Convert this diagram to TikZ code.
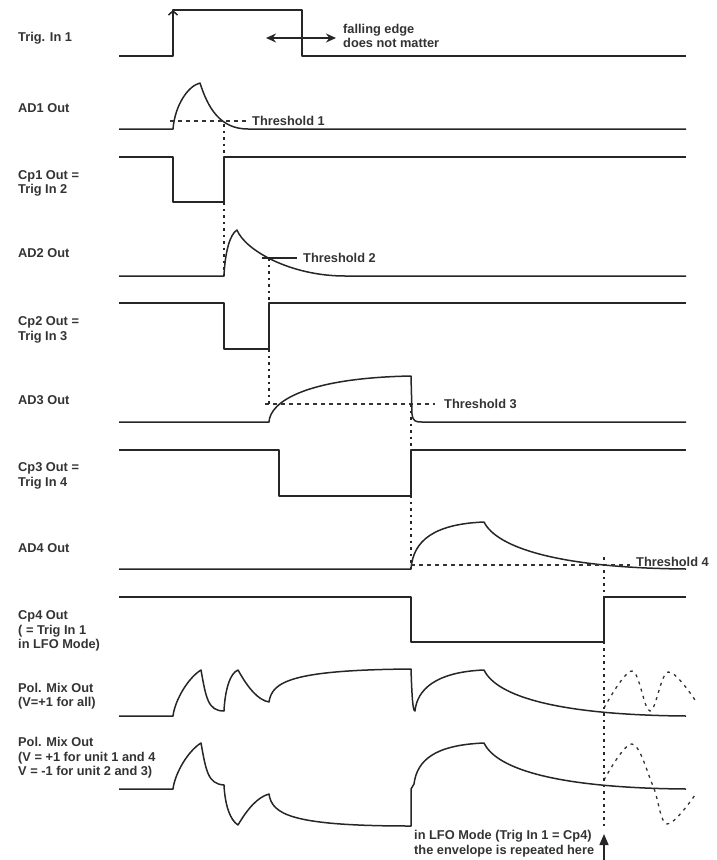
\documentclass[tikz,border=0pt]{standalone}
\usepackage{fontspec}
\setmainfont{Liberation Sans}
\usetikzlibrary{arrows.meta}
\usetikzlibrary{positioning}

\tikzset{
  trace/.style={line width=1.5pt, black!85, line join=round},
  threshline/.style={line width=1.2pt, black!80, dash pattern=on 4pt off 4pt},
  syncline/.style={line width=1.3pt, black!85, dash pattern=on 2.5pt off 4pt},
  lfoline/.style={line width=1.3pt, black!80, dash pattern=on 3pt off 4.5pt},
  rowtext/.style={anchor=west, inner sep=0pt, align=left, text=black!80,
    font=\fontsize{12.8}{14.6}\selectfont\bfseries},
}

% comparator output: high level, low level, x down, x up
\newcommand\cpout[4]{
  \draw[trace] (119,#1) -- (#3,#1) -- (#3,#2) -- (#4,#2) -- (#4,#1) -- (686,#1);
}
\newcommand\rownames{{Trig. In 1}/38, {AD1 Out}/108, {Cp1 Out =\\Trig In 2}/183.5,
  {AD2 Out}/253, {Cp2 Out =\\Trig In 3}/330, {AD3 Out}/400,
  {Cp3 Out =\\Trig In 4}/476, {AD4 Out}/548,
  {Cp4 Out\\( = Trig In 1\\in LFO Mode)}/631,
  {Pol. Mix Out\\(V=+1 for all)}/696,
  {Pol. Mix Out\\(V = +1 for unit 1 and 4\\V = -1 for unit 2 and 3)}/758}

\begin{document}
\begin{tikzpicture}[x=1pt,y=-1pt]
  \useasboundingbox (0,0) rectangle (717,860);

  \foreach \txt/\y [count=\i] in \rownames {
    \node[rowtext] (row\i) at (18,\y) {\txt};
  }

  % trigger in 1
  \draw[trace] (119,56) -- (173,56) -- (173,10) -- (302,10) -- (302,56) -- (686,56);
  \draw[trace,-{Straight Barb[length=4pt,width=9pt]}] (173,30) -- (173,10);
  \coordinate (fallL) at (266,38);
  \coordinate (fallR) at (336,38);
  \draw[trace,{Stealth[length=10pt,width=9pt]}-{Stealth[length=10pt,width=9pt]}] (fallL) -- (fallR);
  \node[rowtext] (fallnote) at (343,36) {falling edge\\does not matter};

  % comparators
  \foreach \yh/\yl/\xa/\xb in {157/202/173/224, 303/349/224/269, 450/496/279/411, 597/642/411/604} {
    \cpout{\yh}{\yl}{\xa}{\xb}
  }

  % AD1
  \draw[trace] (119,129) -- (173,129) .. controls (175,105) and (188,86) .. (200,83)
    .. controls (208,108) and (220,129) .. (248,129) -- (686,129);
  \draw[threshline] (170,121) -- (247,121) coordinate (th1);
  \node[rowtext, right=5pt of th1] (thr1) {Threshold 1};

  % AD2
  \draw[trace] (119,276) -- (224,276) .. controls (225,252) and (230,234) .. (237,230)
    .. controls (245,250) and (290,276) .. (345,276) -- (686,276);
  \draw[trace] (262,258) -- (297,258) coordinate (th2);
  \node[rowtext, right=6pt of th2] (thr2) {Threshold 2};

  % AD3
  \draw[trace] (119,422) -- (269,422) .. controls (270,402) and (305,378) .. (411,376)
    -- (412,414) .. controls (413,421) and (415,422) .. (422,422) -- (686,422);
  \draw[threshline] (265,404) -- (435,404) coordinate (th3);
  \node[rowtext, right=9pt of th3] (thr3) {Threshold 3};

  % AD4
  \draw[trace] (119,569) -- (411,569) .. controls (413,540) and (435,524) .. (484,522)
    .. controls (497,548) and (560,568) .. (686,569);
  \draw[threshline] (411,565) -- (630,565) coordinate (th4);
  \node[rowtext, right=6pt of th4, yshift=3pt] (thr4) {Threshold 4};

  % pol. mix, all +1
  \draw[trace] (119,716) -- (173,716) .. controls (175,700) and (188,678) .. (201,670)
    .. controls (206,698) and (208,711) .. (224,711)
    .. controls (225,690) and (230,673) .. (238,670)
    .. controls (248,688) and (258,700) .. (269,702)
    .. controls (272,682) and (290,670) .. (411,669)
    .. controls (412,700) and (413,711) .. (415,711)
    .. controls (417,690) and (435,672) .. (484,670)
    .. controls (497,697) and (560,715) .. (686,716);
  \draw[lfoline] plot[smooth, tension=0.6] coordinates {(604,708) (632,671) (650,711) (668,672) (695,700)};

  % pol. mix, +1 -1 -1 +1
  \draw[trace] (119,789) -- (173,789) .. controls (175,773) and (188,751) .. (201,743)
    .. controls (206,771) and (208,784) .. (224,785)
    .. controls (225,805) and (230,820) .. (238,825)
    .. controls (248,808) and (258,797) .. (269,794)
    .. controls (272,814) and (290,826) .. (411,826)
    -- (411,789) -- (414,784)
    .. controls (417,760) and (435,745) .. (484,743)
    .. controls (497,770) and (560,788) .. (686,789);
  \draw[lfoline] plot[smooth, tension=0.6] coordinates {(604,780) (632,744) (653,786) (667,824) (695,795)};

  % threshold crossings
  \coordinate (c1) at (224,124); \coordinate (s2) at (224,276);
  \coordinate (c2) at (269,258); \coordinate (s3) at (269,404);
  \coordinate (c3) at (411,404); \coordinate (s4) at (411,569);
  \coordinate (c4) at (604,557); \coordinate (s5) at (604,829);
  \foreach \a/\b in {c1/s2, c2/s3, c3/s4, c4/s5} {
    \draw[syncline] (\a) -- (\b);
  }

  % lfo repeat
  \coordinate (loopfoot) at (604,860);
  \coordinate (looptip) at (604,834);
  \draw[trace,-{Triangle[length=11pt,width=9pt]}] (loopfoot) -- (looptip);
  \node[rowtext] (loopnote) at (414,843.5) {in LFO Mode (Trig In 1 = Cp4)\\the envelope is repeated here};

\end{tikzpicture}
\end{document}
